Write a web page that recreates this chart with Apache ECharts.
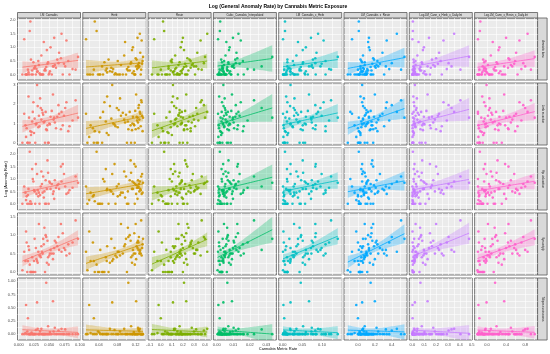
<!DOCTYPE html>
<html><head><meta charset="utf-8">
<script src="https://cdn.jsdelivr.net/npm/echarts@6/dist/echarts.min.js"></script>
<style>html,body{margin:0;padding:0;background:#fff}#c{width:550px;height:354px}</style>
</head><body><div id="c"></div><script>
// ---------------- data ----------------
const chartTitle = 'Log (General Anomaly Rate) by Cannabis Metric Exposure';
const xAxisName = 'Cannabis Metric Rate';
const yAxisName = 'Log (Anomaly Rate)';
const metrics = ['LM_Cannabis','Herb','Resin','Cubic_Cannabis_Interpolated','LM_Cannabis_x_Herb','LM_Cannabis_x_Resin','Log.LM_Cann_x_Herb_x_Daily.Int','Log.LM_Cann_x_Resin_x_Daily.Int'];
const anomalies = ['Amniotic band','Limb reduction','Hip dislocation','Syndactyly','Talipes equinovarus'];

const xLMCannabis = [0.006,0.019,0.011,0.027,0.009,0.014,0.022,0.013,0.031,0.017,0.024,0.012,0.018,0.029,0.021,0.016,0.034,0.023,0.026,0.015,0.038,0.020,0.028,0.033,
 0.036,0.041,0.030,0.045,0.039,0.025,0.047,0.035,0.052,0.043,0.037,0.049,0.044,0.032,0.056,0.040,0.046,0.051,0.042,0.058,0.048,0.054,0.061,0.050,
 0.063,0.057,0.072,0.066,0.059,0.078,0.069,0.083,0.065,0.074,0.088,0.070,0.081,0.093,0.076,0.097];
const xHerb = [0.015,0.031,0.022,0.047,0.012,0.038,0.055,0.027,0.064,0.043,0.052,0.019,0.035,0.071,0.041,0.058,0.076,0.049,0.067,0.029,0.083,0.061,0.074,0.088,
 0.079,0.097,0.069,0.104,0.092,0.057,0.109,0.086,0.114,0.101,0.095,0.118,0.107,0.081,0.121,0.099,0.112,0.116,0.103,0.124,0.110,0.119,0.126,0.113,
 0.122,0.128,0.117,0.130,0.125,0.133,0.120,0.131,0.127,0.134,0.123,0.129,0.135,0.132,0.126,0.136];
const xResin = [-0.08,0.02,-0.03,0.07,-0.06,0.04,0.09,0.01,0.12,0.05,0.10,-0.02,0.03,0.13,0.06,0.11,0.15,0.08,0.14,0.00,0.17,0.10,0.12,0.16,
 0.14,0.19,0.11,0.21,0.17,0.07,0.22,0.15,0.18,0.20,0.13,0.24,0.19,0.09,0.23,0.16,0.21,0.18,0.25,0.20,0.17,0.22,0.27,0.19,
 0.26,0.30,0.23,0.33,0.28,0.36,0.24,0.31,0.39,0.29,0.34,0.42,0.27,0.37,0.32,0.40];
const xCubic = [0.0005,0.0021,0.0012,0.0034,0.0008,0.0017,0.0029,0.0014,0.0041,0.0023,0.0032,0.0010,0.0019,0.0038,0.0026,0.0015,0.0046,0.0030,0.0036,0.0018,0.0052,0.0027,0.0039,0.0044,
 0.0049,0.0058,0.0040,0.0064,0.0055,0.0033,0.0071,0.0048,0.0078,0.0061,0.0053,0.0085,0.0067,0.0045,0.0092,0.0059,0.0074,0.0081,0.0063,0.0098,0.0070,0.0088,0.0105,0.0076,
 0.0112,0.0096,0.0128,0.0119,0.0102,0.0145,0.0124,0.0163,0.0115,0.0138,0.0186,0.0131,0.0158,0.0225,0.0271,0.0335];
const xLMxHerb = [0.001,0.006,0.002,0.012,0.001,0.005,0.011,0.003,0.019,0.007,0.012,0.002,0.006,0.020,0.008,0.009,0.025,0.011,0.017,0.004,0.031,0.012,0.020,0.029,
 0.028,0.039,0.020,0.046,0.035,0.014,0.051,0.030,0.059,0.043,0.035,0.057,0.047,0.026,0.067,0.039,0.051,0.059,0.043,0.072,0.052,0.064,0.077,0.056,
 0.077,0.073,0.084,0.086,0.074,0.104,0.083,0.109,0.083,0.099,0.118,0.090,0.109,0.123,0.096,0.140];
const xLMxResin = [-0.12,0.01,-0.04,0.03,-0.07,0.02,0.04,0.00,0.06,0.01,0.05,-0.02,0.01,0.07,0.02,0.03,0.09,-0.09,0.06,0.00,0.10,0.03,0.05,0.08,
 0.08,0.12,0.05,0.15,0.10,0.03,0.17,0.07,0.13,0.11,0.06,0.18,0.12,0.04,0.20,0.09,0.14,0.10,0.16,0.13,0.08,0.15,0.21,0.11,
 0.19,0.24,0.16,0.29,0.22,0.34,0.18,0.31,0.40,0.26,0.37,0.46,0.23,0.51,0.33,0.55];
const xLogHerbDaily = [0.000,0.004,0.001,0.009,0.000,0.003,0.011,0.002,0.016,0.005,0.012,0.001,0.004,0.019,0.007,0.008,0.024,0.010,0.015,0.002,0.030,0.009,0.018,0.027,
 0.035,0.052,0.021,0.068,0.045,0.013,0.083,0.038,0.097,0.060,0.042,0.110,0.074,0.026,0.128,0.055,0.089,0.102,0.065,0.140,0.079,0.118,0.155,0.093,
 0.165,0.190,0.148,0.225,0.176,0.262,0.200,0.248,0.305,0.215,0.290,0.352,0.238,0.405,0.330,0.478];
const xLogResinDaily = [-0.20,-0.14,-0.18,-0.09,-0.19,-0.16,-0.07,-0.17,-0.03,-0.12,-0.06,-0.18,-0.15,-0.02,-0.11,-0.10,0.01,-0.19,-0.05,-0.16,0.04,-0.08,-0.04,0.02,
 0.06,0.12,-0.01,0.17,0.09,-0.06,0.22,0.05,0.26,0.14,0.08,0.31,0.19,-0.03,0.36,0.11,0.24,0.28,0.16,0.40,0.20,0.34,0.44,0.25,
 0.47,0.53,0.38,0.61,0.50,0.68,0.45,0.64,0.76,0.57,0.72,0.85,0.59,0.92,0.80,1.00];

const yAmnioticBand = [0,1.95,0,0.3,1.3,0,0.15,0,0.12,0,0.45,0,1.6,0.2,0,0.08,0.05,0,0.25,0.18,0,0.55,0,0.35,
 0,1.2,0.1,0.28,0,0.22,0.4,0,1.0,0.2,0.7,0,0.15,0.5,0.3,0,0.9,0.12,0.15,1.35,0.45,0,0.25,0.05,
 0.55,0.3,0,0.8,0.35,1.25,0.6,0,0.42,0.4,0.2,1.5,0.5,0.18,0.3,0.65];
const yLimbReduction = [0,0.6,0.9,0,1.5,0,1.1,0.75,1.9,1.3,2.1,0.3,0,1.0,0.55,2.4,0.85,1.6,1.25,0,1.7,0.4,0.95,1.4,
 1.8,1.05,3.0,0.7,1.55,0.5,0.9,2.3,1.35,0,1.2,0,1.6,0.8,2.5,1.45,0.65,0.95,1.1,1.3,0,1.65,0.75,1.0,
 1.35,1.2,0.9,1.5,1.05,2.1,0.7,0.85,1.95,1.4,1.15,1.6,0.6,2.2,1.8,1.3];
const yHipDislocation = [0,0.1,0.45,0,0.7,0,1.4,0.3,0.55,0,0.9,0.15,2.1,0.4,0,0.6,0,1.0,0.5,0.35,0.8,0,1.6,0.45,
 0.7,0.25,1.2,0,0.45,0.55,1.75,0.35,0.6,0,1.3,0,0.95,0.3,0.4,1.1,0.6,0.85,0.5,0.2,1.25,0.8,0.65,0.9,
 0.75,0.5,1.6,0.6,0.95,0.4,1.5,0.55,0.8,1.2,0.65,0.9,0.45,1.1,0.7,0.85];
const ySyndactyly = [0.05,0,0.3,0,0.55,0,0.4,0.8,0.25,0.6,0,1.1,0.2,0.35,0,0.7,0.45,0,0.9,0.3,0.55,0,0.65,1.3,
 0.4,0.75,0.3,0.95,0.5,0.3,0.85,0.45,0.6,0,0.7,0.2,1.0,0.55,0.35,0.9,0.25,0.5,1.2,0.65,0.4,0.5,0.8,0.45,
 0.7,0.5,1.05,0.6,0.85,0.45,1.3,0.5,0.95,0.65,0.8,0.55,0.75,1.4,0.6,0.9];
const yTalipes = [0,0,0.02,0,0,0.05,0,0,0.1,0,0,0.55,0,0,0.03,0,0,0,0,0.3,0,0,0.08,0,
 0,0,0.6,0.97,0,0,0,0.05,0,0,0.1,0,0,0,0.62,0,0,0.04,0,0,0.15,0,0,0,
 0,0.05,0,0,0.12,0,0,0,0.07,0,0,0.1,0,0,0.09,0];

const xTickValues = [[0,0.025,0.05,0.075,0.1],[0.04,0.08,0.12],[-0.1,0,0.1,0.2,0.3,0.4],[0,0.01,0.02,0.03],[0,0.05,0.1],[0,0.2,0.4],[0,0.1,0.2,0.3,0.4,0.5],[0,0.4,0.8]];
const yTickValues = [[0,0.5,1,1.5,2],[0,1,2,3],[0,0.5,1,1.5,2],[0,0.5,1,1.5],[0,0.25,0.5,0.75,1]];

// ---------------- layout / style ----------------
const xCols = [xLMCannabis,xHerb,xResin,xCubic,xLMxHerb,xLMxResin,xLogHerbDaily,xLogResinDaily];
const yRows = [yAmnioticBand,yLimbReduction,yHipDislocation,ySyndactyly,yTalipes];
const xDec = [3,2,1,2,2,1,1,1];
const yDec = [1,0,1,1,2];
const xRange = [[-0.002,0.101],[0.005,0.142],[-0.115,0.455],[-0.002,0.036],[-0.01,0.15],[-0.165,0.58],[-0.026,0.505],[-0.26,1.06]];
const yRange = [[-0.2,2.08],[-0.12,3.1],[-0.25,2.25],[-0.08,1.6],[-0.11,1.06]];
const colors = ['#F8766D','#CD9600','#7CAE00','#00BE67','#00BFC4','#00A9FF','#C77CFF','#FF61CC'];
const L0 = 17.5, CSTEP = 65.3, W = 63, T0 = 18, RSTEP = 65, H = 62;
const FONT = 'Liberation Sans, Arial, sans-serif';
const BORDER = '#595959';

function gridVals(ticks, range){
  const step = ticks.length>1 ? (ticks[1]-ticks[0]) : 1;
  const out = [];
  const half = step/2;
  const start = ticks[0] - step*4;
  for (let k=0;k<200;k++){
    const v = +(start + half*k).toFixed(8);
    if (v > range[1]) break;
    if (v >= range[0]) out.push(v);
  }
  return out;
}
function hexA(hex, a){
  const n = parseInt(hex.slice(1),16);
  return 'rgba(' + (n>>16&255) + ',' + (n>>8&255) + ',' + (n&255) + ',' + a + ')';
}
// ordinary least squares fit with 95% confidence band (as geom_smooth(method = "lm"))
function lmFit(xs, ys){
  const n = xs.length; let mx=0,my=0;
  for (let i=0;i<n;i++){mx+=xs[i];my+=ys[i];}
  mx/=n; my/=n;
  let sxx=0,sxy=0;
  for (let i=0;i<n;i++){sxx+=(xs[i]-mx)*(xs[i]-mx);sxy+=(xs[i]-mx)*(ys[i]-my);}
  const b = sxy/sxx, a = my-b*mx;
  let sse=0;
  for (let i=0;i<n;i++){const r=ys[i]-a-b*xs[i];sse+=r*r;}
  const s = Math.sqrt(sse/(n-2)), t = 1.999;
  const lo = Math.min.apply(null,xs), hi = Math.max.apply(null,xs);
  const line=[], band=[];
  for (let j=0;j<=40;j++){
    const x = lo+(hi-lo)*j/40;
    const yh = a+b*x;
    const se = t*s*Math.sqrt(1/n+(x-mx)*(x-mx)/sxx);
    line.push([x,yh]); band.push([x,yh-se,yh+se]);
  }
  return {line, band};
}

const grids=[], xAxes=[], yAxes=[], series=[];
for (let r=0;r<5;r++){
  for (let c=0;c<8;c++){
    const k = r*8+c;
    grids.push({left:L0+c*CSTEP, top:T0+r*RSTEP, width:W, height:H, show:true,
      backgroundColor:'#EBEBEB', borderColor:BORDER, borderWidth:0.8, z:0});
    xAxes.push({type:'value', gridIndex:k, min:xRange[c][0], max:xRange[c][1],
      axisLine:{show:false},
      axisTick:{show:false, customValues:gridVals(xTickValues[c], xRange[c])},
      splitLine:{show:true, lineStyle:{color:'#FFFFFF', width:0.6}},
      axisLabel:{show:r===4, customValues:xTickValues[c], fontSize:4, fontFamily:FONT, color:'#4D4D4D', margin:2.5,
        formatter:(v)=>(+v).toFixed(xDec[c])}});
    yAxes.push({type:'value', gridIndex:k, min:yRange[r][0], max:yRange[r][1],
      axisLine:{show:false},
      axisTick:{show:false, customValues:gridVals(yTickValues[r], yRange[r])},
      splitLine:{show:true, lineStyle:{color:'#FFFFFF', width:0.6}},
      axisLabel:{show:c===0, customValues:yTickValues[r], fontSize:4, fontFamily:FONT, color:'#4D4D4D', margin:2,
        formatter:(v)=>(+v).toFixed(yDec[r])}});
    const xs = xCols[c], ys = yRows[r];
    const pts = xs.map((x,i)=>[x, ys[i]]);
    const f = lmFit(xs, ys);
    const yMin = yRange[r][0], yMax = yRange[r][1];
    const fill = hexA(colors[c], 0.3);
    series.push({type:'scatter', xAxisIndex:k, yAxisIndex:k, data:pts, symbolSize:2.6,
      itemStyle:{color:colors[c], opacity:0.9}, silent:true, z:2});
    series.push({type:'custom', xAxisIndex:k, yAxisIndex:k, data:f.band, silent:true, z:3,
      encode:{x:0, y:[1,2]},
      renderItem:function(params, api){
        if (params.dataIndex !== 0) return null;
        const cl = (v)=>Math.max(yMin, Math.min(yMax, v));
        const upper = f.band.map(p=>api.coord([p[0], cl(p[2])]));
        const lower = f.band.slice().reverse().map(p=>api.coord([p[0], cl(p[1])]));
        return {type:'polygon', shape:{points:upper.concat(lower)}, style:{fill:fill, stroke:null}};
      }});
    series.push({type:'line', xAxisIndex:k, yAxisIndex:k, data:f.line, symbol:'none',
      lineStyle:{color:colors[c], width:0.8}, silent:true, z:4});
  }
}

const graphics = [];
metrics.forEach((m,c)=>{
  const x = L0+c*CSTEP;
  graphics.push({type:'rect', shape:{x:x, y:12.5, width:W, height:5.5}, style:{fill:'#D9D9D9', stroke:BORDER, lineWidth:0.8}, silent:true});
  graphics.push({type:'text', x:x+W/2, y:15.3, silent:true,
    style:{text:m, fontSize:2.8, fontFamily:FONT, fill:'#1A1A1A', textAlign:'center', textVerticalAlign:'middle', align:'center', verticalAlign:'middle'}});
});
anomalies.forEach((a,r)=>{
  const y = T0+r*RSTEP;
  const x = L0+8*CSTEP-2.3;
  graphics.push({type:'rect', shape:{x:x, y:y, width:9.5, height:H}, style:{fill:'#D9D9D9', stroke:BORDER, lineWidth:0.8}, silent:true});
  graphics.push({type:'text', x:x+4.75, y:y+H/2, rotation:-Math.PI/2, silent:true,
    style:{text:a, fontSize:2.8, fontFamily:FONT, fill:'#1A1A1A', textAlign:'center', textVerticalAlign:'middle', align:'center', verticalAlign:'middle'}});
});
graphics.push({type:'text', x:278, y:6.5, silent:true,
  style:{text:chartTitle, fontSize:5, fontWeight:'bold', fontFamily:FONT, fill:'#000', textAlign:'center', textVerticalAlign:'middle', align:'center', verticalAlign:'middle'}});
graphics.push({type:'text', x:278, y:348.5, silent:true,
  style:{text:xAxisName, fontSize:4, fontFamily:FONT, fill:'#000', textAlign:'center', textVerticalAlign:'middle', align:'center', verticalAlign:'middle'}});
graphics.push({type:'text', x:5.5, y:179, rotation:Math.PI/2, silent:true,
  style:{text:yAxisName, fontSize:4, fontFamily:FONT, fill:'#000', textAlign:'center', textVerticalAlign:'middle', align:'center', verticalAlign:'middle'}});

const chart = echarts.init(document.getElementById('c'), null, {renderer:'canvas'});
chart.setOption({animation:false, backgroundColor:'#FFFFFF', grid:grids, xAxis:xAxes, yAxis:yAxes, series:series, graphic:graphics});
</script></body></html>
